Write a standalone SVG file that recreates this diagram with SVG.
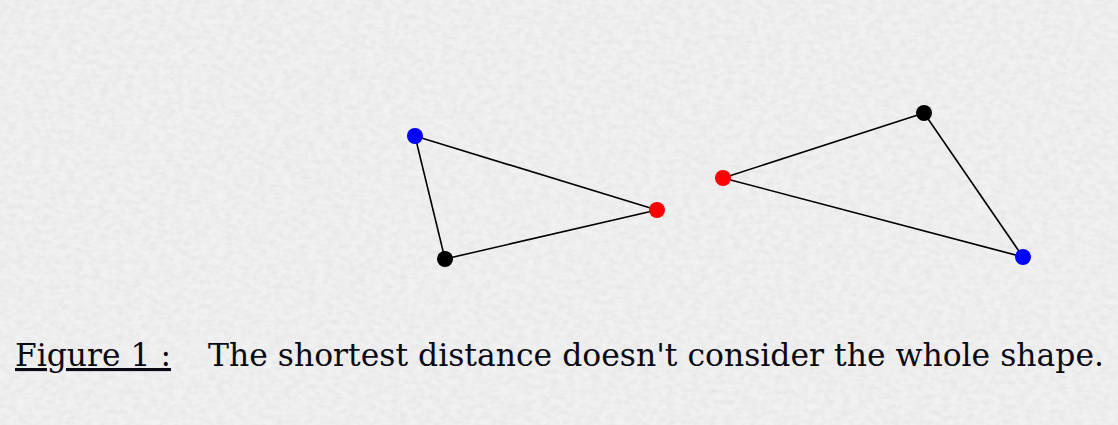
<svg xmlns="http://www.w3.org/2000/svg" width="1118" height="425" viewBox="0 0 1118 425">
  <defs>
    <filter id="paper" x="0" y="0" width="100%" height="100%">
      <feTurbulence type="fractalNoise" baseFrequency="0.12 0.2" numOctaves="2" seed="3" result="n"/>
      <feColorMatrix in="n" type="matrix" values="0 0 0 0 0  0 0 0 0 0  0 0 0 0 0  0.5 0 0 0 -0.15" result="a"/>
      <feComposite in="a" in2="SourceGraphic" operator="in"/>
    </filter>
    <style>
      .edge { stroke: #000; stroke-width: 1.6; fill: none; }
      .cap { font-family: "DejaVu Serif", "Liberation Serif", serif; font-size: 31px; fill: #0a0a14; }
    </style>
  </defs>
  <rect x="0" y="0" width="1118" height="425" fill="#f1f1f1"/>
  <rect x="0" y="0" width="1118" height="425" fill="#000" filter="url(#paper)" opacity="0.14"/>
  <g id="connectors">
    <line class="edge" x1="415" y1="136" x2="657" y2="210"/>
    <line class="edge" x1="415" y1="136" x2="445" y2="259"/>
    <line class="edge" x1="445" y1="259" x2="657" y2="210"/>
    <line class="edge" x1="723" y1="178" x2="924" y2="113"/>
    <line class="edge" x1="723" y1="178" x2="1023" y2="257"/>
    <line class="edge" x1="924" y1="113" x2="1023" y2="257"/>
  </g>
  <g id="left-blue"><circle cx="415" cy="136" r="8" fill="#0000ff"/></g>
  <g id="left-red"><circle cx="657" cy="210" r="8" fill="#ff0000"/></g>
  <g id="left-black"><circle cx="445" cy="259" r="8" fill="#000"/></g>
  <g id="right-red"><circle cx="723" cy="178" r="8" fill="#ff0000"/></g>
  <g id="right-black"><circle cx="924" cy="113" r="8" fill="#000"/></g>
  <g id="right-blue"><circle cx="1023" cy="257" r="8" fill="#0000ff"/></g>
  <g id="caption">
    <text class="cap" x="15" y="366" text-decoration="underline" textLength="156" lengthAdjust="spacingAndGlyphs">Figure 1 :</text>
    <text class="cap" x="208" y="366" textLength="896" lengthAdjust="spacingAndGlyphs">The shortest distance doesn't consider the whole shape.</text>
  </g>
</svg>
